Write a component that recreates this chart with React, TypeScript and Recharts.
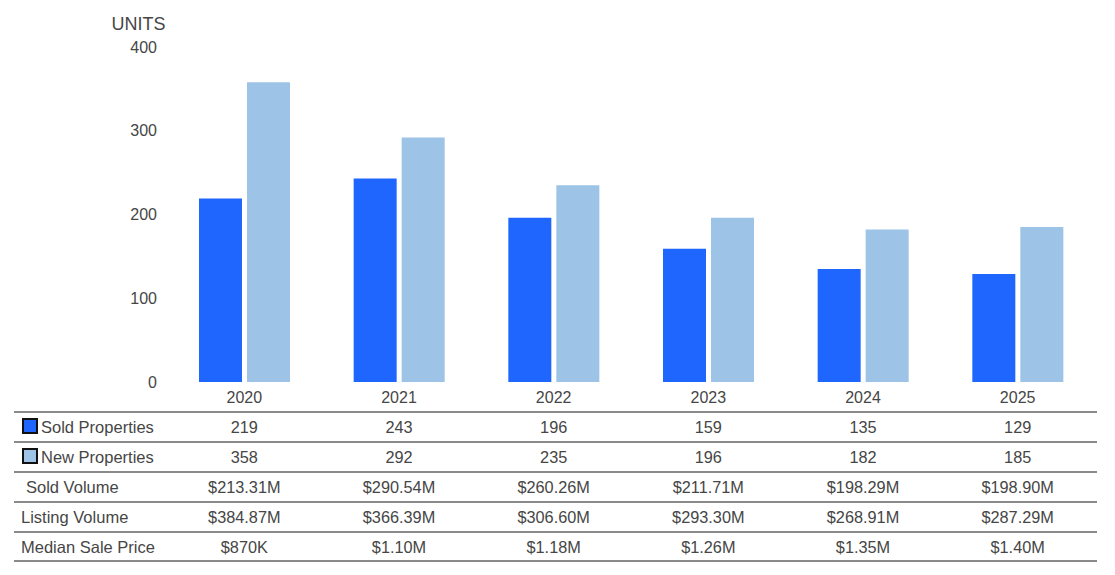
import { Bar, BarChart, XAxis, YAxis } from "recharts"

const years = ["2020", "2021", "2022", "2023", "2024", "2025"]
const soldProperties = [219, 243, 196, 159, 135, 129]
const newProperties = [358, 292, 235, 196, 182, 185]
const soldVolume = ["$213.31M", "$290.54M", "$260.26M", "$211.71M", "$198.29M", "$198.90M"]
const listingVolume = ["$384.87M", "$366.39M", "$306.60M", "$293.30M", "$268.91M", "$287.29M"]
const medianSalePrice = ["$870K", "$1.10M", "$1.18M", "$1.26M", "$1.35M", "$1.40M"]
const yTicks = [0, 100, 200, 300, 400]

const rowLabels = ["Sold Properties", "New Properties", "Sold Volume", "Listing Volume", "Median Sale Price"]

const SOLD = "#1f66ff"
const NEW = "#9dc3e6"
const TEXT = "#464646"
const FONT = "Arial, 'Liberation Sans', sans-serif"

const data = years.map((year, i) => ({
  year,
  sold: soldProperties[i],
  listed: newProperties[i],
}))

const tableRows = [
  soldProperties.map(String),
  newProperties.map(String),
  soldVolume,
  listingVolume,
  medianSalePrice,
]

// x axis tick also prints the table column under each year
function YearTick(props: any) {
  const { x, y, payload, index } = props
  return (
    <g>
      <text x={x} y={y + 15} textAnchor="middle" dominantBaseline="central" fill={TEXT} fontSize={16}>
        {payload.value}
      </text>
      {tableRows.map((row, r) => (
        <text
          key={r}
          x={x}
          y={y + 45 + r * 30}
          textAnchor="middle"
          dominantBaseline="central"
          fill={TEXT}
          fontSize={16.3}
        >
          {row[index]}
        </text>
      ))}
    </g>
  )
}

export default function App() {
  const lineYs = [412, 442, 472, 502, 532, 561]
  const labelX = [41, 41, 26, 21, 21]
  return (
    <div style={{ position: "absolute", left: 0, top: 0, width: 1115, height: 575, background: "#fff", fontFamily: FONT }}>
      <BarChart
        width={1115}
        height={575}
        data={data}
        margin={{ top: 47, right: 20, left: 110, bottom: 0 }}
        barSize={43}
        barGap={5}
        style={{ fontFamily: FONT }}
      >
        <XAxis
          dataKey="year"
          axisLine={false}
          tickLine={false}
          tickSize={0}
          tickMargin={0}
          height={193}
          interval={0}
          tick={<YearTick />}
        />
        <YAxis
          domain={[0, 400]}
          ticks={yTicks}
          width={57}
          axisLine={false}
          tickLine={false}
          tickSize={0}
          tickMargin={10}
          tick={{ fill: TEXT, fontSize: 16 }}
          label={{ value: "UNITS", position: "top", offset: 17, fill: TEXT, fontSize: 18 }}
        />
        <Bar dataKey="sold" fill={SOLD} isAnimationActive={false} />
        <Bar dataKey="listed" fill={NEW} isAnimationActive={false} />
      </BarChart>
      <svg width={1115} height={575} style={{ position: "absolute", left: 0, top: 0, pointerEvents: "none" }}>
        {lineYs.map((ly) => (
          <line key={ly} x1={14} x2={1097} y1={ly} y2={ly} stroke="#8a8a8a" strokeWidth={2} />
        ))}
        <rect x={23} y={419} width={14} height={14} fill={SOLD} stroke="#111" strokeWidth={2} />
        <rect x={23} y={449} width={14} height={14} fill={NEW} stroke="#111" strokeWidth={2} />
        {rowLabels.map((label, r) => (
          <text
            key={label}
            x={labelX[r]}
            y={427 + r * 30}
            dominantBaseline="central"
            fill={TEXT}
            fontSize={16.5}
            fontFamily={FONT}
          >
            {label}
          </text>
        ))}
      </svg>
    </div>
  )
}
